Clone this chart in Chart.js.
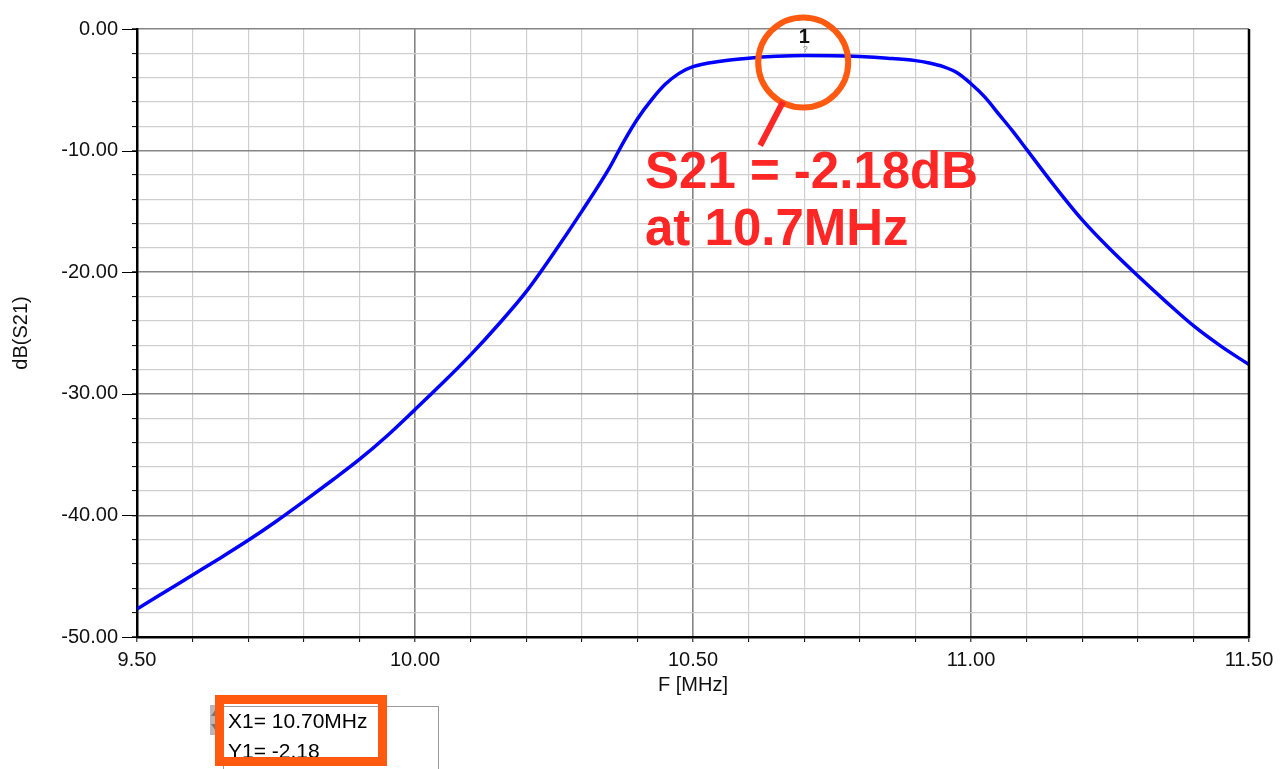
<!DOCTYPE html>
<html>
<head>
<meta charset="utf-8">
<script src="https://cdn.jsdelivr.net/npm/chart.js@4.4.1/dist/chart.umd.min.js"></script>
<style>
  html, body { margin: 0; padding: 0; background: #fff; }
  #wrap { width: 1281px; height: 769px; }
</style>
</head>
<body>
<div id="wrap"><canvas id="s21Chart" width="1281" height="769"></canvas></div>
<script>
// frequency in MHz, S21 in dB
const freqMHz = [9.50, 9.55, 9.60, 9.65, 9.70, 9.75, 9.80, 9.85, 9.90, 9.95,
                 10.00, 10.05, 10.10, 10.15, 10.20, 10.25, 10.30, 10.35, 10.375, 10.40,
                 10.425, 10.45, 10.475, 10.50, 10.55, 10.60, 10.65, 10.70, 10.75, 10.80,
                 10.85, 10.90, 10.925, 10.95, 10.975, 11.00, 11.025, 11.05, 11.075, 11.10,
                 11.15, 11.20, 11.25, 11.30, 11.35, 11.40, 11.45, 11.50];
const s21dB   = [-47.7, -46.3, -44.9, -43.5, -42.05, -40.5, -38.85, -37.15, -35.4, -33.45,
                 -31.3, -29.1, -26.8, -24.3, -21.6, -18.4, -15.0, -11.4, -9.3, -7.4,
                 -5.85, -4.55, -3.65, -3.1, -2.65, -2.4, -2.25, -2.18, -2.2, -2.27,
                 -2.4, -2.6, -2.8, -3.1, -3.6, -4.5, -5.6, -7.0, -8.4, -9.9,
                 -12.9, -15.7, -18.1, -20.3, -22.4, -24.4, -26.1, -27.6];
const xTickLabels = [9.5, 10.0, 10.5, 11.0, 11.5];
const yTickLabels = [0, -10, -20, -30, -40, -50];

const marker = { x: 10.70, y: -2.18, name: '1' };
const noteLines = ['S21 = -2.18dB', 'at 10.7MHz'];
const boxLines = ['X1= 10.70MHz', 'Y1= -2.18'];

const isMajorX = v => xTickLabels.some(t => Math.abs(t - v) < 1e-6);
const isMajorY = v => yTickLabels.some(t => Math.abs(t - v) < 1e-6);

const ORANGE = '#ff5a10';
const RED = '#ff2626';

// ── décorations : marqueur, cercle, texte, boîte du marqueur ──
const decoPlugin = {
  id: 'deco',
  afterDraw(chart) {
    const { ctx, scales: { x, y }, chartArea } = chart;
    ctx.save();

    // long major ticks on y axis
    ctx.strokeStyle = '#000'; ctx.lineWidth = 1;
    yTickLabels.forEach(v => {
      const py = Math.round(y.getPixelForValue(v)) + 0.5;
      ctx.beginPath(); ctx.moveTo(chartArea.left - 15, py); ctx.lineTo(chartArea.left, py); ctx.stroke();
    });
    // right border
    ctx.strokeStyle = '#000'; ctx.lineWidth = 2.5;
    ctx.beginPath(); ctx.moveTo(chartArea.right, chartArea.top); ctx.lineTo(chartArea.right, chartArea.bottom + 1); ctx.stroke();

    const mx = x.getPixelForValue(marker.x);
    const my = y.getPixelForValue(marker.y);

    // marker label
    ctx.fillStyle = '#111';
    ctx.font = 'bold 20px "Liberation Sans", Arial, sans-serif';
    ctx.textAlign = 'center'; ctx.textBaseline = 'alphabetic';
    ctx.fillText(marker.name, mx, my - 13);
    ctx.fillStyle = '#888';
    ctx.font = '9px "Liberation Sans", Arial, sans-serif';
    ctx.fillText('?', mx + 1, my - 4);

    // orange circle
    ctx.strokeStyle = ORANGE; ctx.lineWidth = 6;
    ctx.beginPath(); ctx.arc(mx - 1, my + 7, 45, 0, Math.PI * 2); ctx.stroke();

    // red pointer
    ctx.strokeStyle = RED; ctx.lineWidth = 6; ctx.lineCap = 'butt';
    ctx.beginPath(); ctx.moveTo(mx - 21, my + 46); ctx.lineTo(mx - 44, my + 90); ctx.stroke();

    // red note
    ctx.fillStyle = RED;
    ctx.font = 'bold 51px "Liberation Sans", Arial, sans-serif';
    ctx.textAlign = 'left';
    ctx.fillText(noteLines[0], 645, 188);
    ctx.fillText(noteLines[1], 645, 245);

    // marker readout box
    ctx.fillStyle = '#fff';
    ctx.fillRect(223, 706, 215, 70);
    ctx.strokeStyle = '#9a9a9a'; ctx.lineWidth = 1;
    ctx.strokeRect(223.5, 706.5, 215, 70);
    // little scroll arrows
    ctx.fillStyle = '#b8b8b8';
    ctx.fillRect(210, 705, 12, 30);
    ctx.fillStyle = '#777';
    ctx.beginPath(); ctx.moveTo(211, 716); ctx.lineTo(221, 716); ctx.lineTo(216, 709); ctx.fill();
    ctx.beginPath(); ctx.moveTo(211, 724); ctx.lineTo(221, 724); ctx.lineTo(216, 731); ctx.fill();

    ctx.fillStyle = '#000';
    ctx.font = '21px "Liberation Sans", Arial, sans-serif';
    ctx.fillText(boxLines[0], 228, 728);
    ctx.fillText(boxLines[1], 228, 758);

    ctx.strokeStyle = ORANGE; ctx.lineWidth = 9;
    ctx.strokeRect(219.5, 699.5, 163, 62);

    ctx.restore();
  }
};

const tickFont = { family: '"Liberation Sans", Arial, sans-serif', size: 20 };
const titleFont = { family: '"Liberation Sans", Arial, sans-serif', size: 20 };

new Chart(document.getElementById('s21Chart'), {
  type: 'line',
  data: {
    datasets: [{
      label: 'dB(S21)',
      data: freqMHz.map((f, i) => ({ x: f, y: s21dB[i] })),
      borderColor: '#0000ff',
      borderWidth: 3.5,
      pointRadius: 0,
      fill: false,
      cubicInterpolationMode: 'monotone'
    }]
  },
  options: {
    responsive: false,
    animation: false,
    layout: { padding: { top: 29, right: 32, left: 0, bottom: 0 } },
    plugins: { legend: { display: false }, tooltip: { enabled: false } },
    scales: {
      x: {
        type: 'linear',
        min: 9.5, max: 11.5,
        afterFit: s => { s.height = 132; },
        ticks: {
          stepSize: 0.1,
          autoSkip: false,
          maxRotation: 0,
          color: '#111',
          font: tickFont,
          padding: 6,
          callback: v => isMajorX(v) ? v.toFixed(2) : ''
        },
        grid: {
          color: c => isMajorX(c.tick.value) ? '#858585' : '#cfcfcf',
          lineWidth: c => isMajorX(c.tick.value) ? 1.6 : 1.2,
          tickColor: '#000',
          tickLength: 5,
          tickWidth: 1
        },
        border: { color: '#000', width: 2.5 },
        title: { display: true, text: 'F [MHz]', color: '#111', font: titleFont, padding: { top: 0, bottom: 72 } }
      },
      y: {
        min: -50, max: 0,
        afterFit: s => { s.width = 137; },
        ticks: {
          stepSize: 2,
          autoSkip: false,
          color: '#111',
          font: tickFont,
          padding: 14,
          callback: v => isMajorY(v) ? v.toFixed(2) : ''
        },
        grid: {
          color: c => isMajorY(c.tick.value) ? '#858585' : '#cfcfcf',
          lineWidth: c => isMajorY(c.tick.value) ? 1.6 : 1.2,
          tickColor: '#000',
          tickLength: 5,
          tickWidth: 1
        },
        border: { color: '#000', width: 2.5 },
        title: { display: true, text: 'dB(S21)', color: '#111', font: titleFont, padding: { top: 9, bottom: 0 } }
      }
    }
  },
  plugins: [decoPlugin]
});
</script>
</body>
</html>
